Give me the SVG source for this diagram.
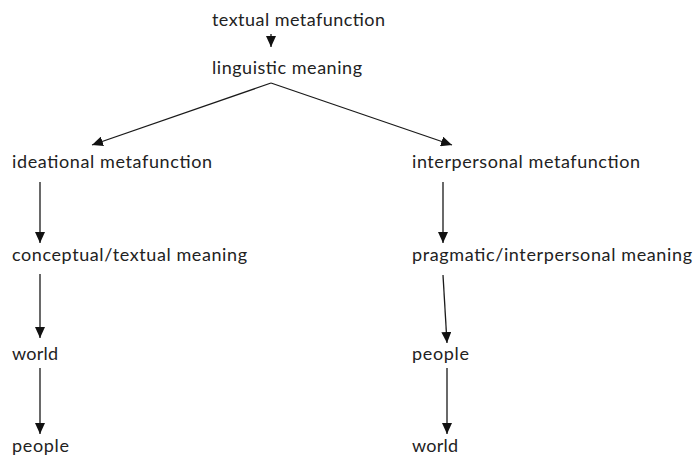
<svg xmlns="http://www.w3.org/2000/svg" width="695" height="457" viewBox="0 0 695 457">
<style>
text{font-family:Lato,"Open Sans","Noto Sans",sans-serif;font-size:18px;fill:#222}
.c{stroke:#1a1a1a;stroke-width:1.3;fill:none}
</style>
<defs>
<marker id="ah" markerUnits="userSpaceOnUse" markerWidth="12" markerHeight="10" refX="11" refY="5" orient="auto">
<path d="M0,0 L11,5 L0,10 Z" fill="#111"/>
</marker>
</defs>
<rect width="695" height="457" fill="#fff"/>
<g id="connectors">
<line class="c" x1="271" y1="34" x2="271" y2="47" marker-end="url(#ah)"/>
<line class="c" x1="271" y1="83" x2="92" y2="145" marker-end="url(#ah)"/>
<line class="c" x1="271" y1="83" x2="452" y2="145" marker-end="url(#ah)"/>
<line class="c" x1="40" y1="182" x2="40" y2="243" marker-end="url(#ah)"/>
<line class="c" x1="40" y1="274" x2="40" y2="338" marker-end="url(#ah)"/>
<line class="c" x1="40" y1="368" x2="40" y2="434" marker-end="url(#ah)"/>
<line class="c" x1="443" y1="182" x2="443" y2="243" marker-end="url(#ah)"/>
<line class="c" x1="443" y1="275" x2="447" y2="343" marker-end="url(#ah)"/>
<line class="c" x1="447" y1="368" x2="447" y2="434" marker-end="url(#ah)"/>
</g>
<g id="n-textual"><text x="212" y="26" textLength="173">textual metafunction</text></g>
<g id="n-linguistic"><text x="212" y="74" textLength="150">linguistic meaning</text></g>
<g id="n-ideational"><text x="12" y="168" textLength="200">ideational metafunction</text></g>
<g id="n-conceptual"><text x="12" y="261" textLength="235">conceptual/textual meaning</text></g>
<g id="n-world-l"><text x="12" y="360" textLength="46">world</text></g>
<g id="n-people-l"><text x="12" y="452" textLength="57">people</text></g>
<g id="n-interpersonal"><text x="412" y="168" textLength="228">interpersonal metafunction</text></g>
<g id="n-pragmatic"><text x="412" y="261" textLength="280">pragmatic/interpersonal meaning</text></g>
<g id="n-people-r"><text x="412" y="360" textLength="57">people</text></g>
<g id="n-world-r"><text x="412" y="452" textLength="46">world</text></g>
</svg>
